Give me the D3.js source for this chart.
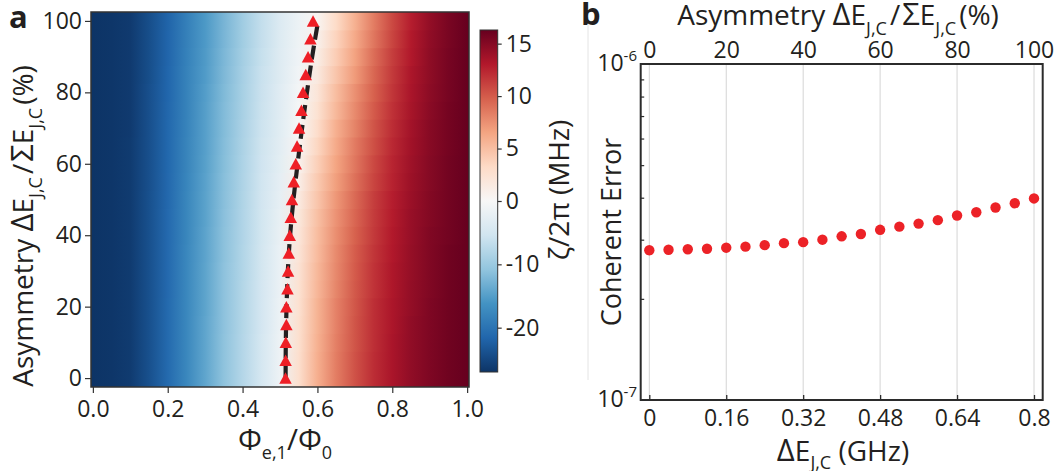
<!DOCTYPE html>
<html>
<head>
<meta charset="utf-8">
<script src="https://cdn.jsdelivr.net/npm/d3@7"></script>
<style>
  body { margin: 0; background: #fff; }
  svg text { font-family: "Open Sans", "Noto Sans", sans-serif; fill: #231f20; }
</style>
</head>
<body>
<svg id="fig" width="1061" height="471"></svg>
<script>
// ---------- Panel a: ZZ coupling map ----------
const fluxGrid = [0, 0.05, 0.10, 0.15, 0.20, 0.25, 0.30, 0.35, 0.40, 0.45, 0.50,
                  0.55, 0.60, 0.65, 0.70, 0.75, 0.80, 0.85, 0.90, 0.95, 1.00];
const asymmetryRows = [0, 5, 10, 15, 20, 25, 30, 35, 40, 45, 50,
                       55, 60, 65, 70, 75, 80, 85, 90, 95, 100];
// zeta/2pi in MHz, one row per asymmetry value, one column per flux value
const zetaMHz = [
  [-27.0,-26.8,-26.2,-24.0,-21.1,-17.6,-14.3,-11.0,-7.9,-4.9,-1.4,2.8,5.9,8.4,10.4,12.1,13.4,14.5,15.3,15.9,16.3],
  [-27.0,-26.8,-26.2,-24.0,-21.1,-17.6,-14.3,-11.0,-7.9,-4.9,-1.4,2.8,5.9,8.4,10.4,12.1,13.4,14.5,15.3,15.9,16.3],
  [-27.0,-26.8,-26.2,-24.0,-21.1,-17.6,-14.3,-11.0,-7.9,-4.9,-1.4,2.7,5.8,8.3,10.3,12.0,13.4,14.5,15.3,15.9,16.3],
  [-27.0,-26.8,-26.2,-24.0,-21.1,-17.6,-14.3,-11.1,-8.0,-5.0,-1.5,2.7,5.7,8.2,10.3,12.0,13.3,14.5,15.3,15.9,16.3],
  [-27.0,-26.8,-26.2,-24.0,-21.1,-17.6,-14.4,-11.1,-8.0,-5.0,-1.5,2.6,5.7,8.2,10.2,12.0,13.3,14.4,15.3,15.9,16.3],
  [-27.0,-26.8,-26.2,-24.0,-21.2,-17.7,-14.4,-11.1,-8.0,-5.0,-1.7,2.5,5.5,8.0,10.1,11.8,13.2,14.4,15.2,15.9,16.3],
  [-27.0,-26.8,-26.2,-24.0,-21.2,-17.7,-14.4,-11.1,-8.1,-5.1,-1.8,2.4,5.4,7.9,10.0,11.8,13.2,14.3,15.2,15.9,16.3],
  [-27.0,-26.8,-26.2,-24.0,-21.2,-17.7,-14.5,-11.2,-8.1,-5.1,-1.9,2.2,5.2,7.8,9.9,11.7,13.1,14.3,15.2,15.9,16.3],
  [-27.0,-26.8,-26.2,-24.0,-21.2,-17.8,-14.5,-11.2,-8.2,-5.2,-2.0,2.0,5.1,7.6,9.7,11.5,13.0,14.2,15.2,15.8,16.3],
  [-27.0,-26.8,-26.2,-24.0,-21.2,-17.8,-14.6,-11.3,-8.2,-5.2,-2.2,1.8,4.9,7.4,9.5,11.4,12.9,14.2,15.1,15.8,16.3],
  [-27.0,-26.8,-26.2,-24.0,-21.3,-17.8,-14.6,-11.4,-8.3,-5.3,-2.4,1.5,4.6,7.2,9.3,11.3,12.8,14.1,15.1,15.8,16.3],
  [-27.0,-26.8,-26.2,-24.1,-21.3,-17.9,-14.7,-11.5,-8.4,-5.4,-2.6,1.0,4.3,6.8,9.0,11.0,12.6,14.0,15.0,15.8,16.3],
  [-27.0,-26.8,-26.2,-24.1,-21.4,-18.0,-14.8,-11.6,-8.5,-5.5,-2.8,0.6,3.9,6.5,8.7,10.8,12.5,13.9,15.0,15.8,16.3],
  [-27.0,-26.8,-26.2,-24.1,-21.4,-18.0,-14.9,-11.7,-8.6,-5.6,-3.0,0.3,3.5,6.2,8.5,10.5,12.3,13.8,14.9,15.7,16.3],
  [-27.0,-26.8,-26.3,-24.1,-21.4,-18.1,-14.9,-11.8,-8.7,-5.7,-3.1,-0.1,3.0,5.9,8.1,10.3,12.1,13.7,14.9,15.7,16.3],
  [-27.0,-26.8,-26.3,-24.1,-21.5,-18.2,-15.0,-11.9,-8.9,-5.9,-3.2,-0.4,2.5,5.4,7.8,10.0,11.9,13.5,14.8,15.7,16.3],
  [-27.0,-26.8,-26.3,-24.1,-21.6,-18.2,-15.1,-12.0,-9.0,-6.0,-3.3,-0.6,2.1,5.1,7.5,9.7,11.7,13.4,14.7,15.6,16.3],
  [-27.0,-26.8,-26.3,-24.2,-21.6,-18.3,-15.3,-12.2,-9.1,-6.1,-3.5,-0.9,1.6,4.6,7.0,9.4,11.5,13.3,14.6,15.6,16.3],
  [-27.0,-26.8,-26.3,-24.2,-21.7,-18.4,-15.4,-12.3,-9.3,-6.3,-3.6,-1.1,1.2,4.1,6.6,9.1,11.3,13.1,14.6,15.6,16.3],
  [-27.0,-26.8,-26.3,-24.2,-21.7,-18.5,-15.5,-12.5,-9.5,-6.5,-3.7,-1.3,0.8,3.7,6.2,8.7,11.0,13.0,14.5,15.5,16.3],
  [-27.0,-26.8,-26.3,-24.2,-21.8,-18.6,-15.6,-12.6,-9.6,-6.6,-3.8,-1.5,0.4,3.2,5.8,8.4,10.8,12.8,14.4,15.5,16.3]
];
// flux of the zero-ZZ point found on each row (triangles)
const zeroFlux = [0.5147, 0.5150, 0.5155, 0.5170, 0.5170, 0.5200, 0.5216, 0.5235, 0.5260, 0.5288, 0.5320,
                  0.5368, 0.5421, 0.5456, 0.5509, 0.5573, 0.5616, 0.5688, 0.5750, 0.5813, 0.5883];
// analytic zero-ZZ curve (dashed)
const curveAsym = [0, 10, 20, 30, 40, 50, 60, 70, 80, 90, 100];
const curveFlux = [0.515, 0.5155, 0.5175, 0.521, 0.527, 0.536, 0.547, 0.559, 0.572, 0.586, 0.602];

const fluxTicks = [0, 0.2, 0.4, 0.6, 0.8, 1.0];
const asymTicks = [0, 20, 40, 60, 80, 100];
const colorbarTicks = [15, 10, 5, 0, -10, -20];
const zetaRange = [-27, 0, 16.3];
const rdbuR = ['#0d3466', '#2166ac', '#4393c3', '#92c5de', '#d1e5f0', '#f7f7f7',
               '#fddbc7', '#f4a582', '#d6604d', '#b2182b', '#67001f'];

// ---------- Panel b: coherent error vs junction asymmetry ----------
const deltaEJ = [0, 0.04, 0.08, 0.12, 0.16, 0.20, 0.24, 0.28, 0.32, 0.36, 0.40,
                 0.44, 0.48, 0.52, 0.56, 0.60, 0.64, 0.68, 0.72, 0.76, 0.80];
const coherentError = [2.79e-7, 2.80e-7, 2.81e-7, 2.82e-7, 2.84e-7, 2.86e-7, 2.89e-7, 2.93e-7, 2.95e-7, 3.00e-7, 3.07e-7,
                       3.12e-7, 3.21e-7, 3.28e-7, 3.35e-7, 3.43e-7, 3.54e-7, 3.62e-7, 3.74e-7, 3.85e-7, 3.98e-7];
const deltaTicks = [0, 0.16, 0.32, 0.48, 0.64, 0.8];
const deltaTickLabels = ['0', '0.16', '0.32', '0.48', '0.64', '0.8'];
const asymTopTicks = [0, 20, 40, 60, 80, 100];
const errorMinorTicks = [2e-7, 3e-7, 4e-7, 5e-7, 6e-7, 7e-7, 8e-7, 9e-7];
const errorMajorTicks = [1e-7, 1e-6];
const errorMajorExp = ['-7', '-6'];

// ---------- helpers ----------
const svg = d3.select('#fig');
const defs = svg.append('defs');
const INK = '#231f20';

// parts: [text, kind ('sub' | 'sup' | null), optional font size, optional dx]
function richText(sel, parts, size, subSize, shift) {
  let offset = 0;
  parts.forEach(([t, kind, fs, dx]) => {
    const target = kind === 'sub' ? shift : kind === 'sup' ? -shift : 0;
    const ts = sel.append('tspan')
      .attr('dy', target - offset)
      .attr('font-size', fs || (kind ? subSize : size))
      .text(t);
    if (dx) ts.attr('dx', dx);
    offset = target;
  });
}
const asymTitleParts = [
  ['Asymmetry '], ['Δ', null, 31], ['E'], ['J,C', 'sub'],
  ['/', null, null, 3], ['Σ', null, 31, 2], ['E'], ['J,C', 'sub'], ['(%)', null, null, 3]
];

const norm = d3.scaleLinear().domain(zetaRange).range([0, 0.5, 1]).clamp(true);
const cmap = d3.scaleLinear().domain(d3.range(rdbuR.length).map(i => i / (rdbuR.length - 1)))
  .range(rdbuR).interpolate(d3.interpolateRgb);
const zetaColor = v => cmap(norm(v));

// ---------- Panel a ----------
const xA = d3.scaleLinear().domain([-0.005, 1.005]).range([91, 469]);
const yA = d3.scaleLinear().domain([-2.5, 102.5]).range([387, 12]);
const gA = svg.append('g');

defs.append('clipPath').attr('id', 'clipA')
  .append('rect').attr('x', xA(-0.005)).attr('y', yA(102.5))
  .attr('width', xA(1.005) - xA(-0.005)).attr('height', yA(-2.5) - yA(102.5));

const heat = gA.append('g').attr('clip-path', 'url(#clipA)');
asymmetryRows.forEach((a, i) => {
  const grad = defs.append('linearGradient').attr('id', 'row' + i)
    .attr('gradientUnits', 'userSpaceOnUse')
    .attr('x1', xA(fluxGrid[0])).attr('x2', xA(fluxGrid[fluxGrid.length - 1]))
    .attr('y1', 0).attr('y2', 0);
  fluxGrid.forEach((f, j) => {
    grad.append('stop').attr('offset', (f - fluxGrid[0]) / (fluxGrid[fluxGrid.length - 1] - fluxGrid[0]))
      .attr('stop-color', zetaColor(zetaMHz[i][j]));
  });
  heat.append('rect')
    .attr('x', xA(-0.005))
    .attr('y', yA(a + 2.5) - 0.5)
    .attr('width', xA(1.005) - xA(-0.005))
    .attr('height', yA(a - 2.5) - yA(a + 2.5) + 1)
    .attr('fill', `url(#row${i})`);
});

// dashed zero-ZZ curve
const curvePts = curveAsym.map((a, i) => [curveFlux[i], a]);
heat.append('path')
  .datum(curvePts)
  .attr('d', d3.line().x(d => xA(d[0])).y(d => yA(d[1])).curve(d3.curveCatmullRom))
  .attr('fill', 'none').attr('stroke', INK).attr('stroke-width', 4.2)
  .attr('stroke-dasharray', '14,6');

// triangle markers, centred on their bounding box
const triPath = (cx, cy, w, h) => {
  const p = d3.path();
  p.moveTo(cx, cy - h / 2); p.lineTo(cx + w / 2, cy + h / 2); p.lineTo(cx - w / 2, cy + h / 2); p.closePath();
  return p.toString();
};
gA.append('g').selectAll('path').data(asymmetryRows).join('path')
  .attr('d', (a, i) => triPath(xA(zeroFlux[i]), yA(a), 12.5, 11.5))
  .attr('fill', '#ee1f26');

// frame
gA.append('rect').attr('x', xA(-0.005)).attr('y', yA(102.5))
  .attr('width', xA(1.005) - xA(-0.005)).attr('height', yA(-2.5) - yA(102.5))
  .attr('fill', 'none').attr('stroke', '#333').attr('stroke-width', 1.5);

const axA_x = gA.append('g').attr('transform', `translate(0,${yA(-2.5)})`)
  .call(d3.axisBottom(xA).tickValues(fluxTicks).tickFormat(d3.format('.1f')).tickSize(6).tickPadding(8));
const axA_y = gA.append('g').attr('transform', `translate(${xA(-0.005)},0)`)
  .call(d3.axisLeft(yA).tickValues(asymTicks).tickSize(6).tickPadding(3));
[axA_x, axA_y].forEach(ax => {
  ax.select('.domain').remove();
  ax.selectAll('line').attr('stroke', '#333').attr('stroke-width', 1.2);
  ax.selectAll('text').attr('font-size', 23).attr('fill', INK)
    .style('font-family', '"Open Sans", sans-serif');
});

// axis titles
const xTitleA = gA.append('text').attr('x', 285).attr('y', 450).attr('text-anchor', 'middle');
richText(xTitleA, [['Φ', null, 30], ['e,1', 'sub'], ['/Φ', null, 30], ['0', 'sub']], 28, 18, 9);
const yTitleA = gA.append('text').attr('transform', 'translate(33,226) rotate(-90)').attr('text-anchor', 'middle');
richText(yTitleA, asymTitleParts, 28, 18, 9);

// colour bar
const cbY = d3.scaleLinear().domain(zetaRange).range([372, 201, 30]);
const cbGrad = defs.append('linearGradient').attr('id', 'cbGrad')
  .attr('x1', 0).attr('y1', 1).attr('x2', 0).attr('y2', 0);
rdbuR.forEach((c, i) => cbGrad.append('stop').attr('offset', i / (rdbuR.length - 1)).attr('stop-color', c));
gA.append('rect').attr('x', 480).attr('y', cbY(zetaRange[2]))
  .attr('width', 17.7).attr('height', cbY(zetaRange[0]) - cbY(zetaRange[2]))
  .attr('fill', 'url(#cbGrad)').attr('stroke', '#333').attr('stroke-width', 1);
const axCb = gA.append('g').attr('transform', 'translate(497.7,0)')
  .call(d3.axisRight(cbY).tickValues(colorbarTicks).tickFormat(d => String(d)).tickSize(4).tickPadding(4));
axCb.select('.domain').remove();
axCb.selectAll('line').attr('stroke', '#333').attr('stroke-width', 1.2);
axCb.selectAll('text').attr('font-size', 23).attr('fill', INK).style('font-family', '"Open Sans", sans-serif');
gA.append('text').attr('transform', 'translate(569,190) rotate(-90)').attr('text-anchor', 'middle')
  .attr('font-size', 28).text('ζ/2π (MHz)');

// panel letter
svg.append('text').attr('x', 9).attr('y', 28).attr('font-size', 31).attr('font-weight', 'bold').text('a');

// ---------- Panel b ----------
const xB = d3.scaleLinear().domain([0, 0.8]).range([649.3, 1034]);
const xTop = d3.scaleLinear().domain([0, 100]).range([649.3, 1034]);
const yB = d3.scaleLog().domain([1e-7, 1e-6]).range([400, 64]);
const bL = 640.7, bR = 1042.7, bT = 64, bB = 400;
const gB = svg.append('g');

// faint panel separator
gB.append('line').attr('x1', 588).attr('x2', 588).attr('y1', 22).attr('y2', 380)
  .attr('stroke', '#e4e4e4').attr('stroke-width', 1);

// vertical grid
gB.append('g').selectAll('line').data(deltaTicks).join('line')
  .attr('x1', d => xB(d)).attr('x2', d => xB(d)).attr('y1', bT).attr('y2', bB)
  .attr('stroke', '#d4d4d4').attr('stroke-width', 1);

// data
gB.append('g').selectAll('circle').data(deltaEJ).join('circle')
  .attr('cx', d => xB(d)).attr('cy', (d, i) => yB(coherentError[i])).attr('r', 5.2)
  .attr('fill', '#ec2227');

// frame
gB.append('rect').attr('x', bL).attr('y', bT).attr('width', bR - bL).attr('height', bB - bT)
  .attr('fill', 'none').attr('stroke', '#2b2b2b').attr('stroke-width', 2);

// bottom axis, ticks inward
const axB_x = gB.append('g').attr('transform', `translate(0,${bB})`)
  .call(d3.axisBottom(xB).tickValues(deltaTicks).tickFormat((d, i) => deltaTickLabels[i]).tickSize(-5).tickPadding(10));
axB_x.select('.domain').remove();
axB_x.selectAll('line').attr('stroke', '#2b2b2b').attr('stroke-width', 1.3);
axB_x.selectAll('text').attr('font-size', 23).attr('fill', INK).style('font-family', '"Open Sans", sans-serif');

// top axis, asymmetry in %
const axB_top = gB.append('g').attr('transform', `translate(0,${bT})`)
  .call(d3.axisTop(xTop).tickValues(asymTopTicks).tickSize(0).tickPadding(6));
axB_top.select('.domain').remove();
axB_top.selectAll('text').attr('font-size', 23).attr('fill', INK).style('font-family', '"Open Sans", sans-serif');

// left axis, log scale with inward minor ticks
const axB_y = gB.append('g').attr('transform', `translate(${bL},0)`)
  .call(d3.axisLeft(yB).tickValues(errorMinorTicks).tickFormat('').tickSize(-3.5));
axB_y.select('.domain').remove();
axB_y.selectAll('line').attr('stroke', '#2b2b2b').attr('stroke-width', 1.2);
errorMajorTicks.forEach((v, i) => {
  const t = gB.append('text').attr('x', 637).attr('y', yB(v) + 7).attr('text-anchor', 'end');
  richText(t, [['10'], [errorMajorExp[i], 'sup']], 23, 15, 10);
});

// axis titles
const xTitleB = gB.append('text').attr('x', 843).attr('y', 461).attr('text-anchor', 'middle');
richText(xTitleB, [['Δ', null, 31], ['E'], ['J,C', 'sub'], [' (GHz)']], 28, 18, 8);
const topTitleB = gB.append('text').attr('x', 838).attr('y', 25).attr('text-anchor', 'middle');
richText(topTitleB, asymTitleParts, 28, 18, 10);
gB.append('text').attr('transform', `translate(621,${(bT + bB) / 2}) rotate(-90)`).attr('text-anchor', 'middle')
  .attr('font-size', 27).text('Coherent Error');

svg.append('text').attr('x', 581).attr('y', 25).attr('font-size', 31).attr('font-weight', 'bold').text('b');
</script>
</body>
</html>
